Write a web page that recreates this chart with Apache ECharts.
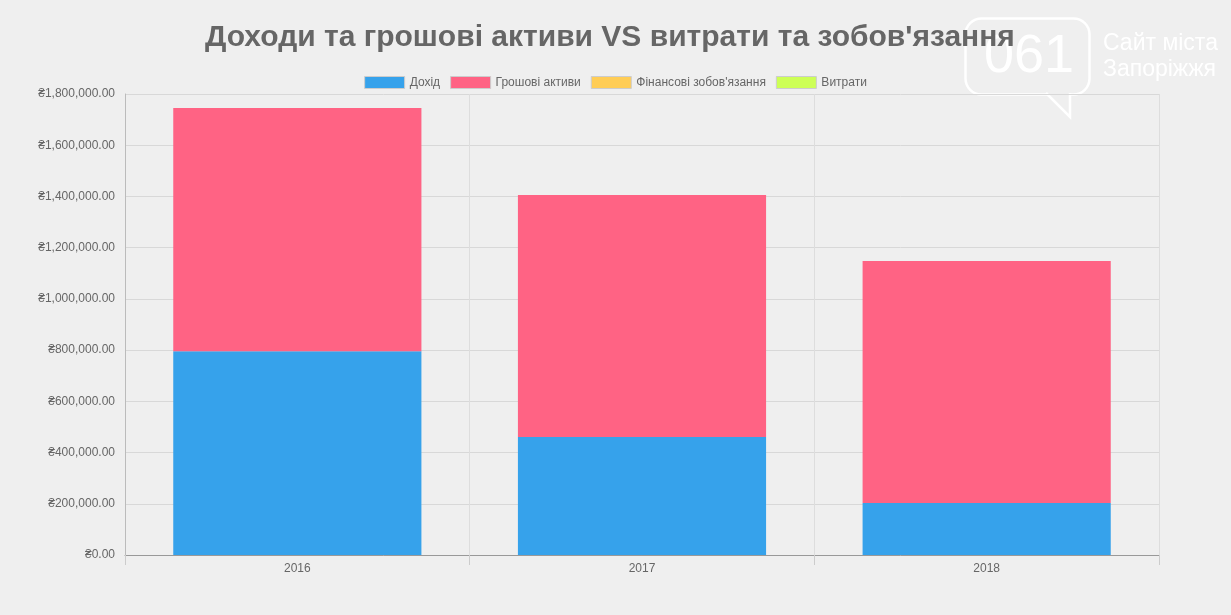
<!DOCTYPE html>
<html><head><meta charset="utf-8">
<script src="https://cdn.jsdelivr.net/npm/echarts@6/dist/echarts.min.js"></script>
<style>html,body{margin:0;background:#efefef}#c{width:1231px;height:615px}</style>
</head><body><div id="c"></div>
<script>
var years = ['2016', '2017', '2018'];
var income = [796000, 461000, 203000];
var cashAssets = [949000, 945000, 945000];
var liabilities = [0, 0, 0];
var expenses = [0, 0, 0];

function money(v) {
  return '₴' + v.toLocaleString('en-US', {minimumFractionDigits: 2, maximumFractionDigits: 2});
}

var chart = echarts.init(document.getElementById('c'));
var font = 'Liberation Sans, Arial, sans-serif';
chart.setOption({
  backgroundColor: '#efefef',
  textStyle: {fontFamily: font},
  title: {
    text: "Доходи та грошові активи VS витрати та зобов'язання",
    left: 200, top: 18,
    textStyle: {fontSize: 30, fontWeight: 'bold', color: '#666', fontFamily: font}
  },
  graphic: [
    {type: 'rect', left: 963, top: 16, shape: {width: 124, height: 76, r: 16},
      style: {fill: 'none', stroke: '#fff', lineWidth: 2.5}, z: 0},
    {type: 'polyline', shape: {points: [[1046, 93], [1070, 117], [1070, 93]]},
      style: {fill: '#efefef', stroke: '#fff', lineWidth: 2.5}},
    {type: 'text', left: 984, top: 30, style: {text: '061', fontSize: 54, fill: '#fff', fontFamily: font}},
    {type: 'text', left: 1103, top: 32, style: {text: 'Сайт міста', fontSize: 23, fill: '#fff', fontFamily: font}},
    {type: 'text', left: 1103, top: 58, style: {text: 'Запоріжжя', fontSize: 23, fill: '#fff', fontFamily: font}}
  ],
  legend: {
    top: 71, left: 'center', itemWidth: 40, itemHeight: 12, itemGap: 10,
    icon: 'rect',
    itemStyle: {borderColor: '#ccc', borderWidth: 1},
    textStyle: {fontSize: 12, color: '#666'},
    data: ['Дохід', 'Грошові активи', "Фінансові зобов'язання", 'Витрати']
  },
  grid: {left: 125, right: 72, top: 94, bottom: 60},
  xAxis: {
    type: 'category', data: years,
    axisLine: {lineStyle: {color: '#999'}},
    axisTick: {show: true, length: 10, lineStyle: {color: '#ccc'}},
    splitLine: {show: true, lineStyle: {color: '#ddd'}},
    axisLabel: {color: '#666', fontSize: 12, margin: 8}
  },
  yAxis: {
    type: 'value', min: 0, max: 1800000, interval: 200000,
    axisLine: {show: true, lineStyle: {color: '#bbb'}},
    axisTick: {show: false},
    splitLine: {lineStyle: {color: '#d8d8d8'}},
    axisLabel: {color: '#666', fontSize: 12, margin: 10, formatter: money}
  },
  series: [
    {name: 'Дохід', type: 'bar', stack: 'a', data: income, barCategoryGap: '28%',
      itemStyle: {color: '#36a2eb'}},
    {name: 'Грошові активи', type: 'bar', stack: 'a', data: cashAssets,
      itemStyle: {color: '#ff6384'}},
    {name: "Фінансові зобов'язання", type: 'bar', stack: 'a', data: liabilities,
      itemStyle: {color: '#ffcd56'}},
    {name: 'Витрати', type: 'bar', stack: 'a', data: expenses,
      itemStyle: {color: '#cdff56'}}
  ]
});
</script></body></html>
